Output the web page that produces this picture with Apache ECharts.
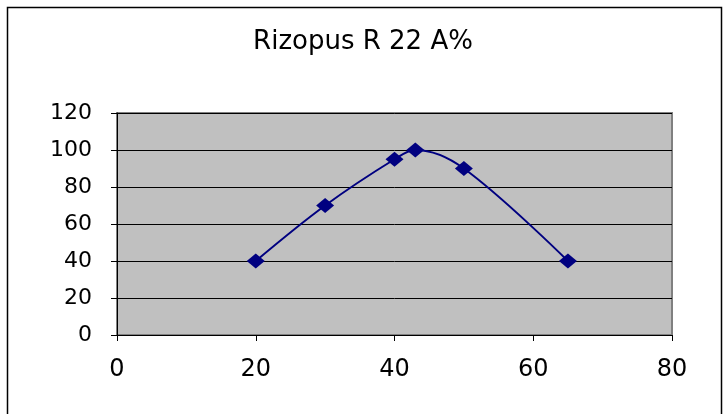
<!DOCTYPE html>
<html>
<head>
<meta charset="utf-8">
<script src="https://cdn.jsdelivr.net/npm/echarts@6/dist/echarts.min.js"></script>
<style>
  * { margin: 0; padding: 0; }
  body { background: #fff; }
  #main { width: 726px; height: 414px; }
</style>
</head>
<body>
<div id="main"></div>
<script>
  // x values (temperature-like) and activity %
  var xValues = [20, 30, 40, 43, 50, 65];
  var yValues = [40, 70, 95, 100, 90, 40];
  var titleText = 'Rizopus R 22 A%';

  var points = xValues.map(function (x, i) { return [x, yValues[i]]; });

  var chart = echarts.init(document.getElementById('main'));
  chart.setOption({
    backgroundColor: '#fff',
    animation: false,
    title: {
      text: titleText,
      left: 'center',
      top: 24,
      textStyle: {
        fontFamily: 'DejaVu Sans',
        fontWeight: 'normal',
        fontSize: 26,
        color: '#000'
      }
    },
    graphic: [
      {
        type: 'rect',
        shape: { x: 7.5, y: 7.5, width: 714, height: 430 },
        style: { fill: 'none', stroke: '#000', lineWidth: 1.5 },
        z: 100
      }
    ],
    grid: {
      left: 117,
      right: 54,
      top: 113,
      bottom: 79,
      show: true,
      backgroundColor: '#c0c0c0',
      borderColor: '#808080',
      borderWidth: 2
    },
    xAxis: {
      type: 'value',
      min: 0,
      max: 80,
      interval: 20,
      axisLine: { show: true, onZero: false, lineStyle: { color: '#000', width: 1 } },
      axisTick: { show: true, length: 6, lineStyle: { color: '#000' } },
      axisLabel: {
        margin: 23,
        fontFamily: 'DejaVu Sans',
        fontSize: 24,
        color: '#000'
      },
      splitLine: { show: false }
    },
    yAxis: {
      type: 'value',
      min: 0,
      max: 120,
      interval: 20,
      axisLine: { show: true, lineStyle: { color: '#000', width: 1 } },
      axisTick: { show: true, length: 6, lineStyle: { color: '#000' } },
      axisLabel: {
        margin: 25,
        fontFamily: 'DejaVu Sans',
        fontSize: 22,
        color: '#000'
      },
      splitLine: { show: true, lineStyle: { color: '#000', width: 1 } }
    },
    series: [
      {
        type: 'line',
        data: points,
        smooth: 0.35,
        symbol: 'diamond',
        symbolSize: [18, 15],
        itemStyle: { color: '#000080' },
        lineStyle: { color: '#000080', width: 2 }
      }
    ]
  });
</script>
</body>
</html>
